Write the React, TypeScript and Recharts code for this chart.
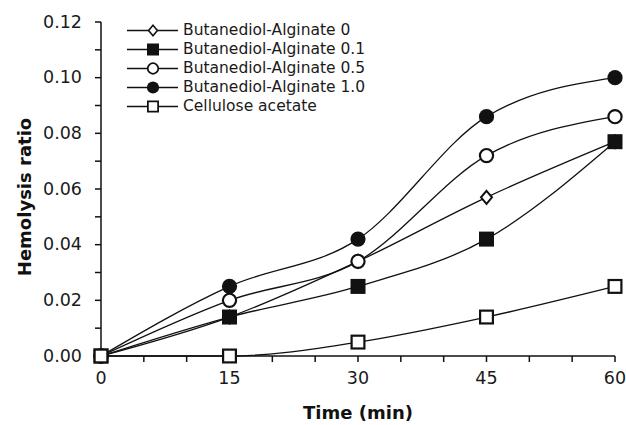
import React from 'react';
import { LineChart, Line, XAxis, YAxis, Legend } from 'recharts';

// hemolysis ratio over time
const times = [0, 15, 30, 45, 60];
const ba0 = [0, 0.014, 0.034, 0.057, 0.077];
const ba01 = [0, 0.014, 0.025, 0.042, 0.077];
const ba05 = [0, 0.02, 0.034, 0.072, 0.086];
const ba10 = [0, 0.025, 0.042, 0.086, 0.1];
const cellulose = [0, 0, 0.005, 0.014, 0.025];

const xTicks = [0, 5, 10, 15, 20, 25, 30, 35, 40, 45, 50, 55, 60];
const xLabels = [0, 15, 30, 45, 60];
const yTicks = [0, 0.01, 0.02, 0.03, 0.04, 0.05, 0.06, 0.07, 0.08, 0.09, 0.1, 0.11, 0.12];
const yLabels = [0, 0.02, 0.04, 0.06, 0.08, 0.1, 0.12];

type Shape = 'diamond' | 'squareFilled' | 'circleOpen' | 'circleFilled' | 'squareOpen';

const series: { key: string; name: string; shape: Shape }[] = [
  { key: 'ba0', name: 'Butanediol-Alginate 0', shape: 'diamond' },
  { key: 'ba01', name: 'Butanediol-Alginate 0.1', shape: 'squareFilled' },
  { key: 'ba05', name: 'Butanediol-Alginate 0.5', shape: 'circleOpen' },
  { key: 'ba10', name: 'Butanediol-Alginate 1.0', shape: 'circleFilled' },
  { key: 'cellulose', name: 'Cellulose acetate', shape: 'squareOpen' },
];

const data = times.map((t, i) => ({
  t,
  ba0: ba0[i],
  ba01: ba01[i],
  ba05: ba05[i],
  ba10: ba10[i],
  cellulose: cellulose[i],
}));

const FONT = '"DejaVu Sans", sans-serif';
const INK = '#111';

const Marker = ({ cx, cy, shape, s }: { cx: number; cy: number; shape: Shape; s: number }) => {
  const sw = 2.2 * s;
  switch (shape) {
    case 'diamond': {
      const w = 5.5 * s, h = 6.5 * s;
      return (
        <polygon
          points={`${cx},${cy - h} ${cx + w},${cy} ${cx},${cy + h} ${cx - w},${cy}`}
          fill="#fff" stroke={INK} strokeWidth={sw * 0.9}
        />
      );
    }
    case 'squareFilled':
      return <rect x={cx - 7.5 * s} y={cy - 7.5 * s} width={15 * s} height={15 * s} fill={INK} />;
    case 'squareOpen':
      return <rect x={cx - 6.4 * s} y={cy - 6.4 * s} width={12.8 * s} height={12.8 * s} fill="#fff" stroke={INK} strokeWidth={sw} />;
    case 'circleFilled':
      return <circle cx={cx} cy={cy} r={7.6 * s} fill={INK} />;
    default:
      return <circle cx={cx} cy={cy} r={6.6 * s} fill="#fff" stroke={INK} strokeWidth={sw} />;
  }
};

const XTick = ({ x, y, payload }: any) => {
  if (!xLabels.includes(payload.value)) return <g />;
  return (
    <text x={x} y={y} dy={22} textAnchor="middle" fontFamily={FONT} fontSize={17.5} fill="#1a1a1a">
      {payload.value}
    </text>
  );
};

const YTick = ({ x, y, payload }: any) => {
  if (!yLabels.some((v) => Math.abs(v - payload.value) < 1e-6)) return <g />;
  return (
    <text x={x - 13} y={y} dy={5.5} textAnchor="end" fontFamily={FONT} fontSize={17.5} fill="#1a1a1a">
      {payload.value.toFixed(2)}
    </text>
  );
};

const LegendBox = () => (
  <div style={{ fontFamily: FONT, fontSize: 15.5, color: '#1a1a1a', lineHeight: '19px' }}>
    {series.map((s) => (
      <div key={s.key} style={{ display: 'flex', alignItems: 'center', height: 19, whiteSpace: 'nowrap' }}>
        <svg width={54} height={19} style={{ display: 'block' }}>
          <line x1={1} y1={9.5} x2={52} y2={9.5} stroke={INK} strokeWidth={1.3} />
          <Marker cx={27} cy={9.5} shape={s.shape} s={0.8} />
        </svg>
        <span style={{ marginLeft: 3 }}>{s.name}</span>
      </div>
    ))}
  </div>
);

export default function App() {
  return (
    <div style={{ position: 'absolute', left: 0, top: 0, width: 626, height: 425, background: '#fff' }}>
      <LineChart width={626} height={425} data={data} margin={{ top: 22, right: 11, bottom: 0, left: 0 }}>
        <XAxis
          dataKey="t"
          type="number"
          domain={[0, 60]}
          ticks={xTicks}
          interval={0}
          tick={<XTick />}
          tickSize={6}
          tickMargin={0}
          height={69}
          stroke={INK}
          strokeWidth={1.5}
          label={() => (
            <text x={358} y={419} textAnchor="middle" fontFamily={FONT} fontWeight="bold" fontSize={18} fill="#111">
              Time (min)
            </text>
          )}
        />
        <YAxis
          type="number"
          domain={[0, 0.12]}
          ticks={yTicks}
          interval={0}
          tick={<YTick />}
          tickSize={6}
          tickMargin={0}
          width={101}
          stroke={INK}
          strokeWidth={1.5}
          label={() => (
            <text
              transform="translate(31,197) rotate(-90)"
              textAnchor="middle"
              fontFamily={FONT}
              fontWeight="bold"
              fontSize={18}
              fill="#111"
            >
              Hemolysis ratio
            </text>
          )}
        />
        <Legend
          layout="vertical"
          align="center"
          verticalAlign="middle"
          content={<LegendBox />}
          wrapperStyle={{ top: 21, left: 126, width: 260 }}
        />
        {series.map((s) => (
          <Line
            key={s.key}
            dataKey={s.key}
            name={s.name}
            type="monotone"
            stroke={INK}
            strokeWidth={1.3}
            isAnimationActive={false}
            activeDot={false}
            dot={(p: any) => <Marker key={`${s.key}-${p.index}`} cx={p.cx} cy={p.cy} shape={s.shape} s={1} />}
          />
        ))}
      </LineChart>
    </div>
  );
}
